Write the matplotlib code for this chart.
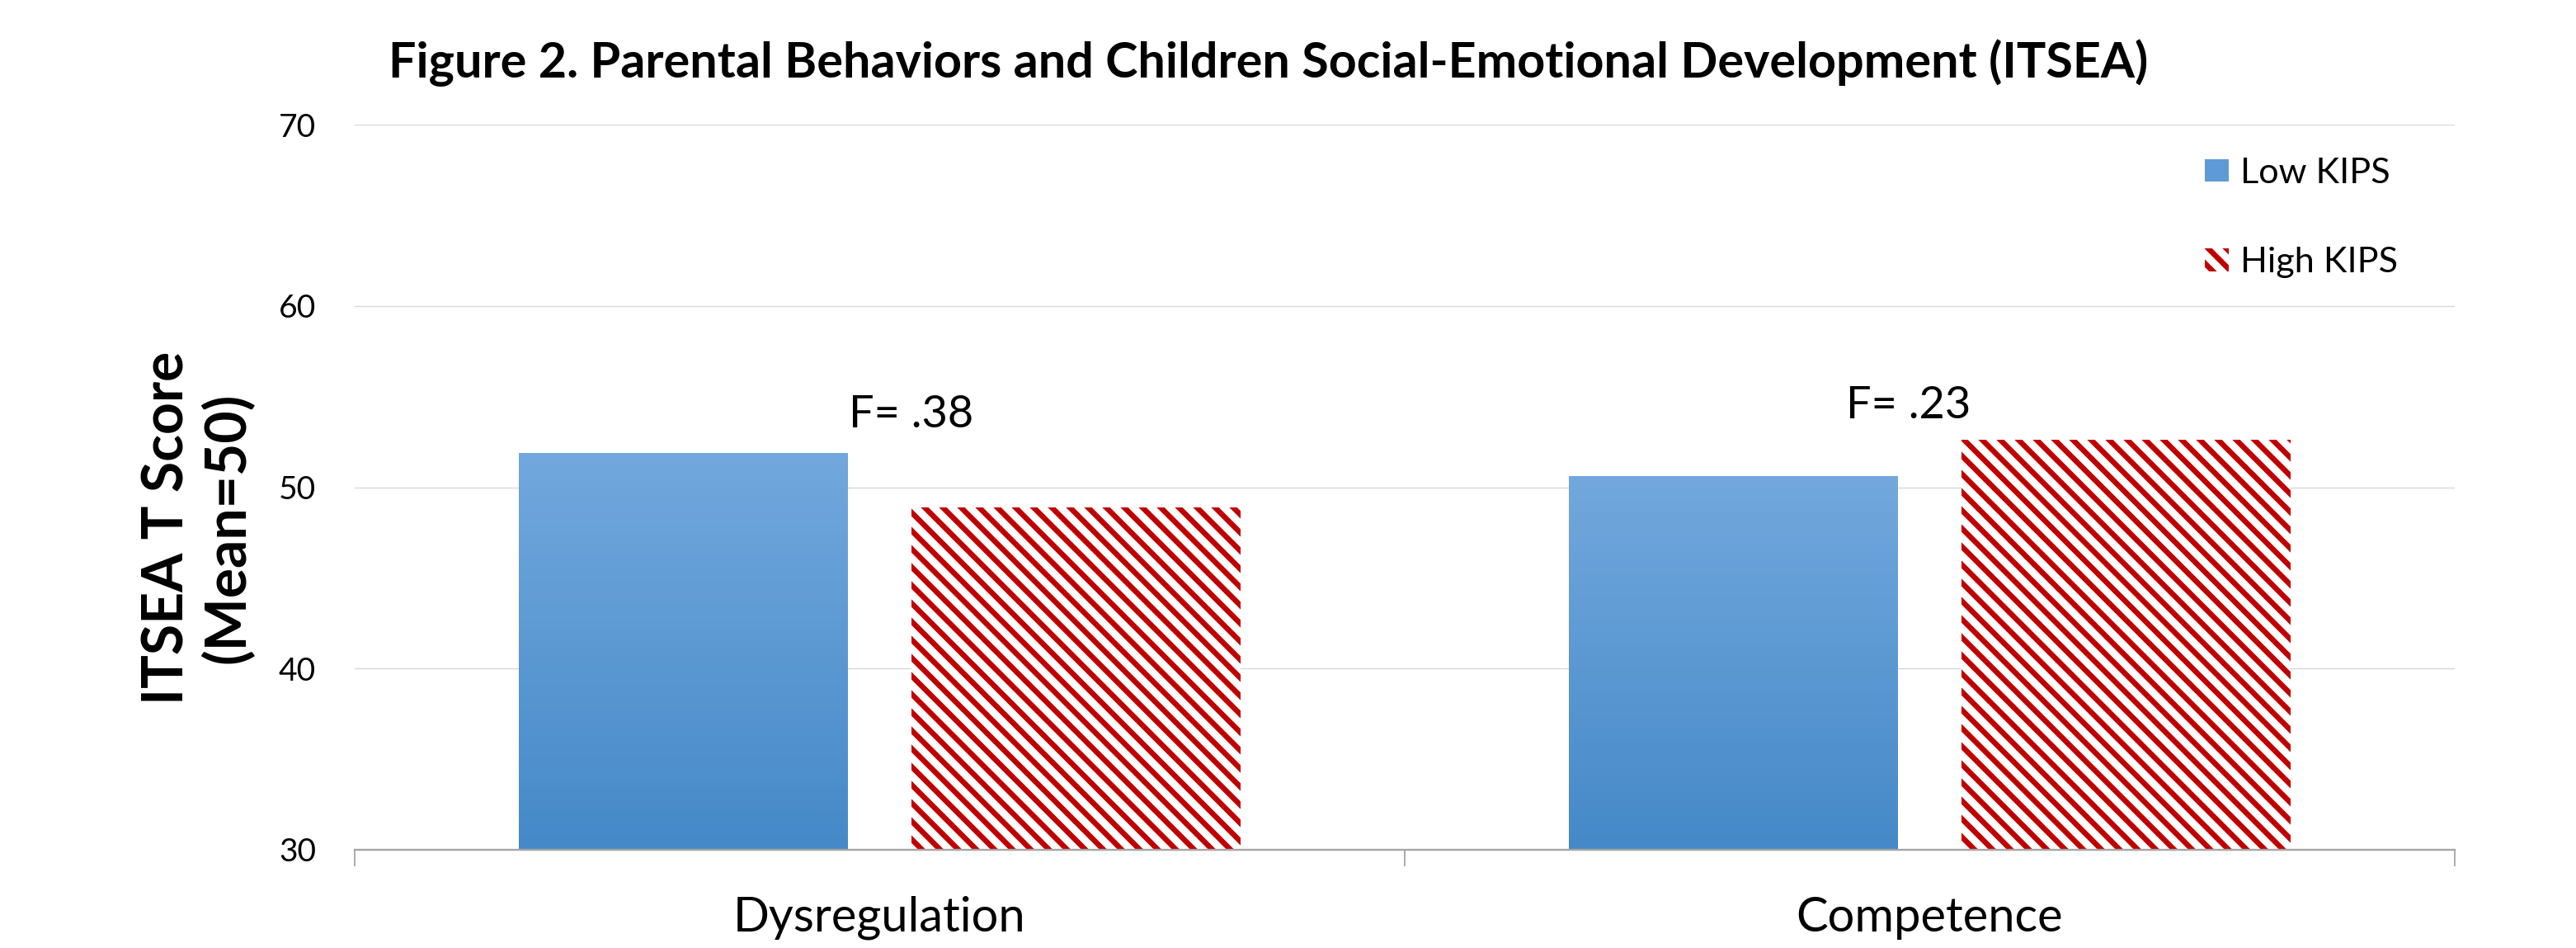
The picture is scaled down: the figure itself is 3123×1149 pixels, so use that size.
import numpy as np
import matplotlib
matplotlib.use("Agg")
import matplotlib.pyplot as plt
from matplotlib.patches import Patch
from matplotlib.colors import LinearSegmentedColormap

# data
categories = ["Dysregulation", "Competence"]
low_kips = [51.9, 50.6]
high_kips = [48.9, 52.6]
f_labels = ["F= .38", "F= .23"]
f_label_y = [54.0, 54.5]
y_ticks = [30, 40, 50, 60, 70]

title = "Figure 2. Parental Behaviors and Children Social-Emotional Development (ITSEA)"

plt.rcParams['font.family'] = ['Lato', 'DejaVu Sans']
plt.rcParams['hatch.linewidth'] = 3.6

# dpi 132 -> double-backslash hatch gives a ~22 px stripe period like the original
W, H, DPI = 3123, 1149, 132
fig = plt.figure(figsize=(W / DPI, H / DPI), dpi=DPI)
ax = fig.add_axes([430 / W, 1 - 1030 / H, (2976 - 430) / W, (1030 - 151) / H])

x = np.arange(len(categories))
width = 0.313
offset = 0.187
red = "#C00000"
hatch = "\\\\"

low_bars = ax.bar(x - offset, low_kips, width, color="#5E9AD6", zorder=2)
high_bars = ax.bar(x + offset, high_kips, width, facecolor="white", edgecolor=red,
                   linewidth=0, hatch=hatch, zorder=2)

# vertical gradient on the blue bars (light at top, darker at bottom)
blue_cmap = LinearSegmentedColormap.from_list("kips_blue", ["#4589C8", "#72A8DD"])
grad = np.linspace(0, 1, 256).reshape(-1, 1)
for bar in low_bars:
    x0, w, h = bar.get_x(), bar.get_width(), bar.get_height()
    im = ax.imshow(grad, cmap=blue_cmap, origin="lower", aspect="auto",
                   extent=(x0, x0 + w, y_ticks[0], h), zorder=2.1)
    im.set_clip_path(bar)

for i, lab in enumerate(f_labels):
    dx = 0.03 if i == 0 else -0.02
    ax.text(x[i] + dx, f_label_y[i], lab, ha="center", va="center", fontsize=29.5)

ax.set_xlim(-0.5, len(categories) - 0.5)
ax.set_ylim(y_ticks[0], y_ticks[-1])
ax.set_yticks(y_ticks)
ax.set_xticks(x)
ax.set_xticklabels(categories, fontsize=31.6)
ax.set_xticks(np.arange(len(categories) + 1) - 0.5, minor=True)
ax.tick_params(axis="x", which="major", length=0, pad=30.5)
ax.tick_params(axis="x", which="minor", length=10.9, width=1.0, color="#A6A6A6")
ax.tick_params(axis="y", length=0, pad=25.6, labelsize=21.3)

ax.grid(axis="y", color="#D9D9D9", linewidth=0.8)
ax.set_axisbelow(True)
for s in ["top", "right", "left"]:
    ax.spines[s].set_visible(False)
ax.spines["bottom"].set_color("#A6A6A6")
ax.spines["bottom"].set_linewidth(1.3)

ax.set_ylabel("ITSEA T Score\n(Mean=50)", fontsize=37, fontweight="bold",
              linespacing=1.15, ha="center", va="center")
ax.yaxis.set_label_coords(-0.0746, 0.4437)

fig.text(1538 / W, 1 - 76 / H, title, ha="center", va="center",
         fontsize=32.3, fontweight="bold")

handles = [Patch(facecolor="#5E9AD6", edgecolor="none", label="Low KIPS"),
           Patch(facecolor="white", edgecolor=red, linewidth=0, hatch=hatch, label="High KIPS")]
ax.legend(handles=handles, loc="upper left", bbox_to_anchor=(2673 / W, 1 - 191 / H),
          bbox_transform=fig.transFigure, frameon=False, fontsize=23.5,
          handlelength=0.67, handleheight=0.6, handletextpad=0.33,
          labelspacing=1.63, borderpad=0, borderaxespad=0)

fig.savefig("out.png", dpi=DPI)
